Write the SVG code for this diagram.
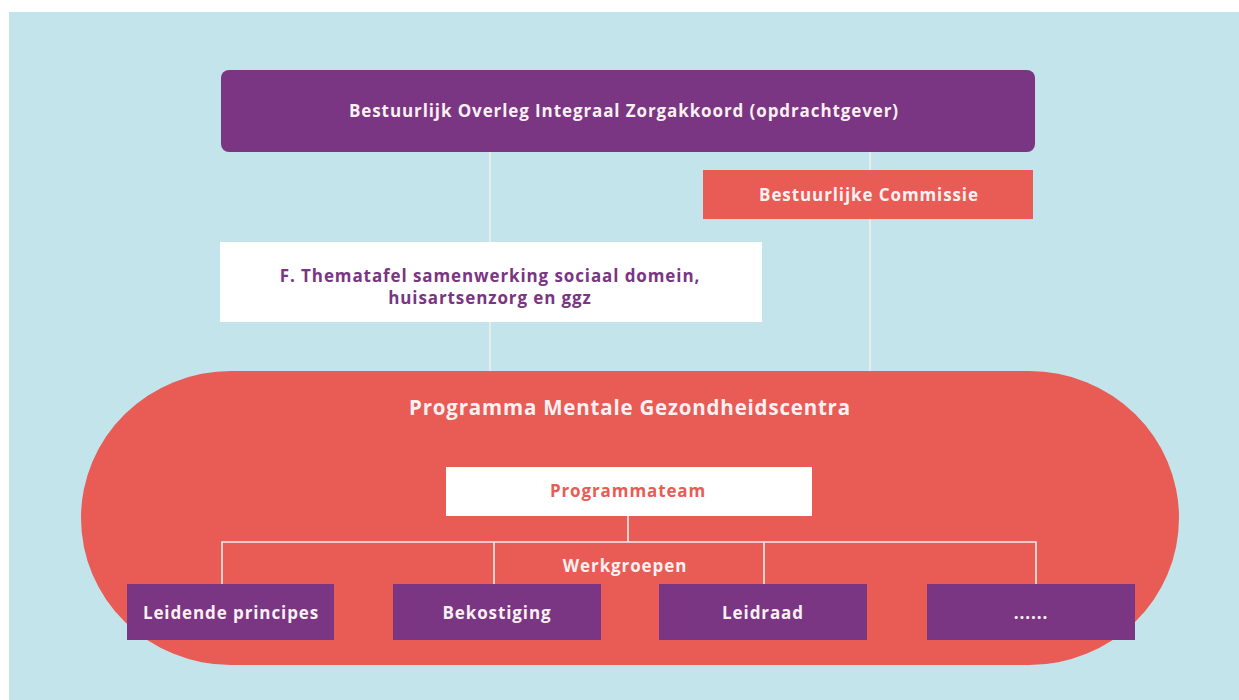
<svg xmlns="http://www.w3.org/2000/svg" width="1239" height="700" viewBox="0 0 1239 700">
<style>
.t{font-family:"Open Sans","Liberation Sans",sans-serif;font-weight:bold;text-anchor:middle;fill:#fbf0f2;font-size:17px;letter-spacing:0.9px}
.ln{stroke:#f4ecec;stroke-width:1.6;fill:none}
.pur{fill:#7a3583}
.cor{fill:#e85c55}
</style>
<rect x="0" y="0" width="1239" height="700" fill="#ffffff"/>
<rect x="9" y="12" width="1230" height="688" fill="#c3e4ea"/>
<g id="connectors-top">
<line class="ln" x1="490" y1="152" x2="490" y2="372"/>
<line class="ln" x1="870" y1="152" x2="870" y2="372"/>
</g>
<g id="programma">
<rect class="cor" x="81" y="371" width="1098" height="294" rx="150" ry="147"/>
<text class="t" x="630" y="415" style="font-size:20.5px;letter-spacing:0.8px">Programma Mentale Gezondheidscentra</text>
</g>
<g id="boiz">
<rect class="pur" x="221" y="70" width="814" height="82" rx="8"/>
<text class="t" x="624" y="117">Bestuurlijk Overleg Integraal Zorgakkoord (opdrachtgever)</text>
</g>
<g id="commissie">
<rect class="cor" x="703" y="170" width="330" height="49"/>
<text class="t" x="869" y="201">Bestuurlijke Commissie</text>
</g>
<g id="thematafel">
<rect x="220" y="242" width="542" height="80" fill="#ffffff"/>
<text class="t" x="490" y="282" style="fill:#7a3583">F. Thematafel samenwerking sociaal domein,</text>
<text class="t" x="490" y="304" style="fill:#7a3583">huisartsenzorg en ggz</text>
</g>
<g id="connectors">
<line class="ln" x1="628" y1="516" x2="628" y2="542"/>
<polyline class="ln" points="222,584 222,542 1036,542 1036,584"/>
<line class="ln" x1="494" y1="542" x2="494" y2="584"/>
<line class="ln" x1="764" y1="542" x2="764" y2="584"/>
</g>
<g id="programmateam">
<rect x="446" y="467" width="366" height="49" fill="#ffffff"/>
<text class="t" x="628" y="497" style="fill:#e85c55">Programmateam</text>
</g>
<g id="werkgroepen">
<text class="t" x="625" y="572">Werkgroepen</text>
</g>
<g id="leidende">
<rect class="pur" x="127" y="584" width="207" height="56"/>
<text class="t" x="231" y="619">Leidende principes</text>
</g>
<g id="bekostiging">
<rect class="pur" x="393" y="584" width="208" height="56"/>
<text class="t" x="497" y="619">Bekostiging</text>
</g>
<g id="leidraad">
<rect class="pur" x="659" y="584" width="208" height="56"/>
<text class="t" x="763" y="619">Leidraad</text>
</g>
<g id="etc">
<rect class="pur" x="927" y="584" width="208" height="56"/>
<text class="t" x="1031" y="619">......</text>
</g>
</svg>
